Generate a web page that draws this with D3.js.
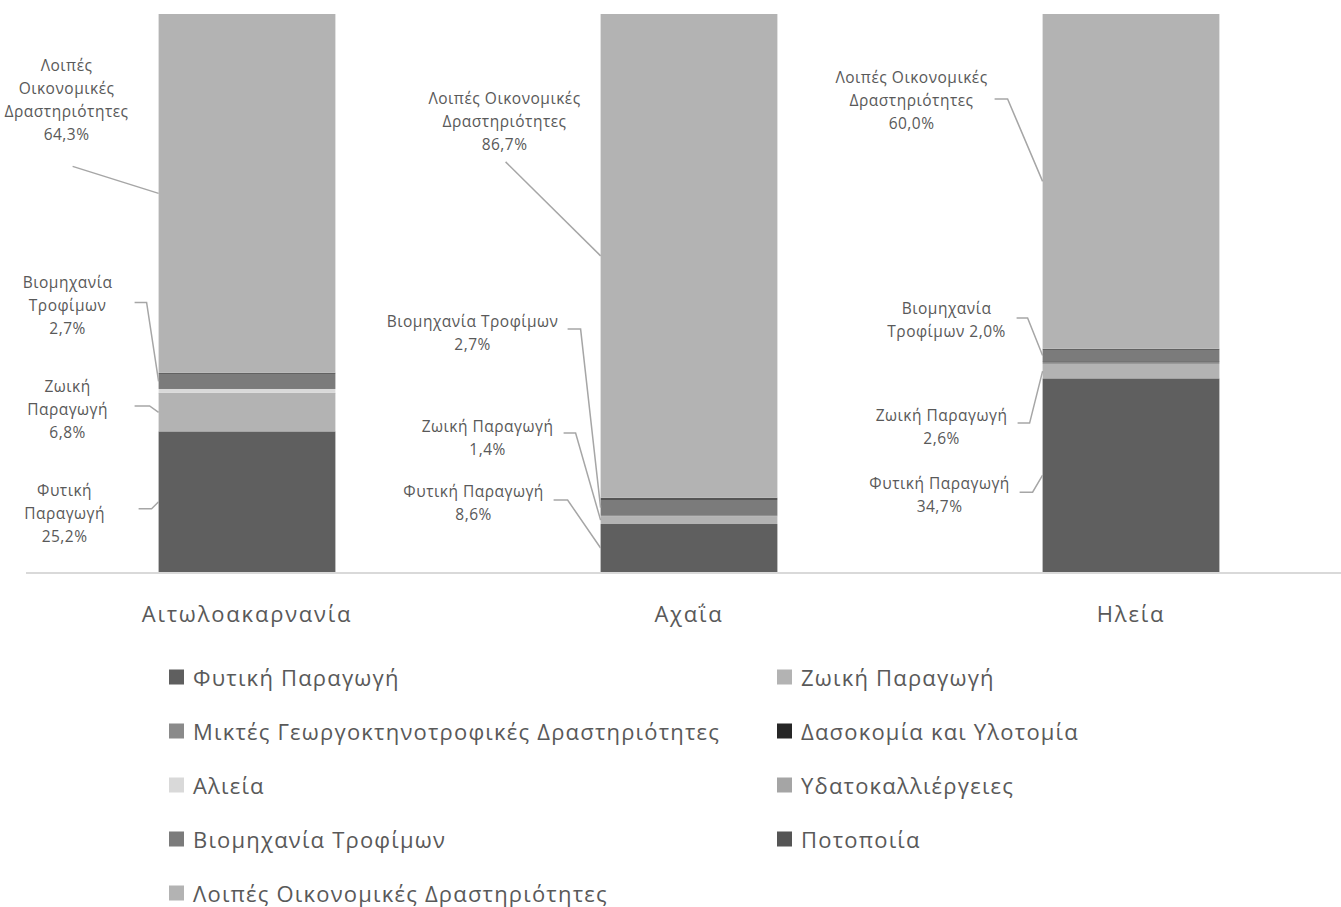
<!DOCTYPE html>
<html><head><meta charset="utf-8">
<script src="https://cdn.jsdelivr.net/npm/d3@7"></script>
<style>
html,body{margin:0;padding:0;background:#fff;}
svg{display:block;font-family:"Open Sans","Noto Sans",sans-serif;}
</style></head>
<body>
<svg id="chart" width="1341" height="907"></svg>
<script>
// ---- DATA ----
const categories = ["Αιτωλοακαρνανία", "Αχαΐα", "Ηλεία"];
const seriesNames = [
  "Φυτική Παραγωγή",
  "Ζωική Παραγωγή",
  "Μικτές Γεωργοκτηνοτροφικές Δραστηριότητες",
  "Δασοκομία και Υλοτομία",
  "Αλιεία",
  "Υδατοκαλλιέργειες",
  "Βιομηχανία Τροφίμων",
  "Ποτοποιία",
  "Λοιπές Οικονομικές Δραστηριότητες"
];
const fytiki    = [25.2, 8.6, 34.7];
const zwiki     = [6.8, 1.4, 2.6];
const miktes    = [0.1, 0.2, 0.4];
const dasokomia = [0.0, 0.0, 0.1];
const alieia    = [0.7, 0.0, 0.0];
const ydatok    = [0.0, 0.0, 0.0];
const viomix    = [2.7, 2.7, 2.0];
const potopoiia = [0.2, 0.4, 0.2];
const loipes    = [64.3, 86.7, 60.0];
const seriesValues = [fytiki, zwiki, miktes, dasokomia, alieia, ydatok, viomix, potopoiia, loipes];
const colors = ["#5f5f5f", "#b3b3b3", "#8a8a8a", "#262626", "#d9d9d9", "#a5a5a5", "#7b7b7b", "#555555", "#b3b3b3"];

// ---- LABEL LAYOUT (offsets relative to bar left edge / segment middle) ----
const labelLayout = [
  {cat:0, s:8, lines:["Λοιπές","Οικονομικές","Δραστηριότητες"], dx:-92, dy:-128, sx:-86, sy:-27, elbow:0},
  {cat:0, s:6, lines:["Βιομηχανία","Τροφίμων"], dx:-91, dy:-99.5, sx:-24, sy:-79, elbow:12},
  {cat:0, s:1, lines:["Ζωική","Παραγωγή"], dx:-91, dy:-26, sx:-24, sy:-6.5, elbow:15},
  {cat:0, s:0, lines:["Φυτική","Παραγωγή"], dx:-94, dy:-12, sx:-20, sy:7, elbow:13},
  {cat:1, s:8, lines:["Λοιπές Οικονομικές","Δραστηριότητες"], dx:-96, dy:-158, sx:-95, sy:-94, elbow:0},
  {cat:1, s:6, lines:["Βιομηχανία Τροφίμων"], dx:-128, dy:-186.5, sx:-33, sy:-178.5, elbow:13},
  {cat:1, s:1, lines:["Ζωική Παραγωγή"], dx:-113, dy:-94, sx:-37, sy:-87, elbow:12},
  {cat:1, s:0, lines:["Φυτική Παραγωγή"], dx:-127, dy:-57, sx:-47, sy:-48, elbow:14},
  {cat:2, s:8, lines:["Λοιπές Οικονομικές","Δραστηριότητες"], dx:-131, dy:-104.4, sx:-48, sy:-82.4, elbow:13},
  {cat:2, s:6, lines:["Βιομηχανία","Τροφίμων"], dx:-96, dy:-47.5, sx:-26, sy:-37.5, elbow:11, inline:true},
  {cat:2, s:1, lines:["Ζωική Παραγωγή"], dx:-101, dy:44, sx:-25, sy:52, elbow:12},
  {cat:2, s:0, lines:["Φυτική Παραγωγή"], dx:-103, dy:8, sx:-23, sy:17, elbow:13}
];

const svg = d3.select("#chart");
const W = 1341, H = 907;
const plot = {left:26, right:1352, top:14, bottom:572};

const x = d3.scaleBand().domain(categories).range([plot.left, plot.right])
  .paddingInner(0.6).paddingOuter(0.3);
const y = d3.scaleLinear().domain([0, 100]).range([plot.bottom, plot.top]);

// stack
const rows = categories.map((c, i) => {
  const o = {cat: c};
  seriesNames.forEach((s, j) => o[s] = seriesValues[j][i]);
  return o;
});
const stack = d3.stack().keys(seriesNames)(rows);

const gBars = svg.append("g");
stack.forEach((layer, j) => {
  gBars.selectAll(null).data(layer).enter().append("rect")
    .attr("x", d => x(d.data.cat))
    .attr("width", x.bandwidth())
    .attr("y", d => y(d[1]))
    .attr("height", d => Math.max(0, y(d[0]) - y(d[1])))
    .attr("fill", colors[j]);
});

// axis line
svg.append("line")
  .attr("x1", plot.left).attr("x2", W)
  .attr("y1", plot.bottom + 1).attr("y2", plot.bottom + 1)
  .attr("stroke", "#d9d9d9").attr("stroke-width", 2);

// category labels
svg.selectAll(".cat").data(categories).enter().append("text")
  .attr("x", d => x(d) + x.bandwidth() / 2)
  .attr("y", 613)
  .attr("text-anchor", "middle")
  .attr("dominant-baseline", "central")
  .attr("font-size", 22)
  .attr("letter-spacing", 1.8)
  .attr("fill", "#595959")
  .text(d => d);

// data labels
const fmt = v => v.toFixed(1).replace(".", ",") + "%";
const gLab = svg.append("g");
labelLayout.forEach(L => {
  const seg = stack[L.s][L.cat];
  const ax = x(categories[L.cat]);
  const ay = (y(seg[0]) + y(seg[1])) / 2;
  const lines = L.lines.slice();
  const val = fmt(seriesValues[L.s][L.cat]);
  if (L.inline) lines[lines.length - 1] += " " + val; else lines.push(val);
  const t = gLab.append("text")
    .attr("text-anchor", "middle")
    .attr("font-size", 15.5)
    .attr("letter-spacing", 0.5)
    .attr("fill", "#595959");
  lines.forEach((ln, k) => {
    t.append("tspan").attr("x", ax + L.dx).attr("y", ay + L.dy + k * 23)
      .attr("dominant-baseline", "central").text(ln);
  });
  const sx = ax + L.sx, sy = ay + L.sy;
  const pts = [[sx, sy]];
  if (L.elbow) pts.push([sx + L.elbow, sy]);
  pts.push([ax, ay]);
  gLab.append("path")
    .attr("d", d3.line()(pts))
    .attr("fill", "none")
    .attr("stroke", "#a6a6a6")
    .attr("stroke-width", 1.5);
});

// legend
const legendOrder = seriesNames.map((s, j) => ({name: s, color: colors[j], j}));
const colX = [169, 777];
const rowY0 = 677, rowStep = 54;
const gLeg = svg.append("g");
legendOrder.forEach((d, k) => {
  const cx = colX[k % 2];
  const cy = rowY0 + Math.floor(k / 2) * rowStep;
  gLeg.append("rect").attr("x", cx).attr("y", cy - 7.5).attr("width", 15).attr("height", 15)
    .attr("fill", d.color);
  gLeg.append("text").attr("x", cx + 24).attr("y", cy)
    .attr("dominant-baseline", "central")
    .attr("font-size", 22).attr("letter-spacing", 1.2)
    .attr("fill", "#595959").text(d.name);
});
</script>
</body></html>
